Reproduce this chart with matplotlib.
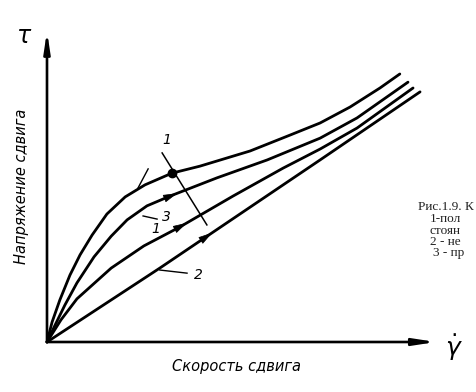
import matplotlib
matplotlib.use("Agg")
import matplotlib.pyplot as plt
import numpy as np

# ---- data (shear rate -> shear stress, arbitrary units) ----
rate_a = [0.00, 0.13, 0.33, 0.59, 0.85, 1.16, 1.54, 2.01, 2.52, 3.21, 3.93, 5.22, 6.25, 7.02, 7.79, 8.56, 9.07]
stress_a = [0.00, 0.51, 1.08, 1.72, 2.24, 2.75, 3.29, 3.73, 4.04, 4.34, 4.52, 4.91, 5.32, 5.63, 6.04, 6.53, 6.89]

rate_b = [0.00, 0.21, 0.46, 0.77, 1.21, 1.65, 2.06, 2.57, 3.16, 4.37, 5.66, 7.02, 7.97, 9.28]
stress_b = [0.00, 0.44, 0.95, 1.52, 2.19, 2.72, 3.14, 3.50, 3.75, 4.22, 4.68, 5.24, 5.76, 6.68]

rate_c = [0.00, 0.36, 0.77, 1.65, 2.49, 3.42, 4.78, 6.07, 7.02, 7.97, 9.41]
stress_c = [0.00, 0.57, 1.11, 1.90, 2.47, 2.96, 3.75, 4.47, 4.96, 5.50, 6.53]

rate_d = [0.00, 2.90, 7.02, 9.59]
stress_d = [0.00, 1.90, 4.68, 6.43]

x_label = "Скорость сдвига"
y_label = "Напряжение сдвига"
# caption as visible in the (cropped) reference
caption = ["Рис.1.9. К", "1-пол", "стоян", "2 - не", "3 - пр"]

W, H = 476, 392
fig = plt.figure(figsize=(W / 100, H / 100), dpi=100)
fig.patch.set_facecolor("white")
ox, oy, s = 47, 342, 38.9
ax = fig.add_axes([ox / W, (H - oy) / H, 389 / W, 311 / H])
ax.set_xlim(0, 389 / s)
ax.set_ylim(0, 311 / s)
ax.axis("off")

lw = 2.0
for xs, ys in [(rate_a, stress_a), (rate_b, stress_b), (rate_c, stress_c), (rate_d, stress_d)]:
    ax.plot(xs, ys, color="black", lw=lw, solid_joinstyle="round", solid_capstyle="round", clip_on=False)

# axes with arrows
ax.annotate("", xy=(0, 311 / s), xytext=(0, 0),
            arrowprops=dict(arrowstyle="-|>,head_length=1.2,head_width=0.18", color="black", lw=1.9,
                            shrinkA=0, shrinkB=0), annotation_clip=False)
ax.annotate("", xy=(389 / s, 0), xytext=(0, 0),
            arrowprops=dict(arrowstyle="-|>,head_length=1.3,head_width=0.2", color="black", lw=1.9,
                            shrinkA=0, shrinkB=0), annotation_clip=False)


def arrow_on(xs, ys, xpos, d=0.25):
    x0, x1 = xpos - d, xpos + d
    ax.annotate("", xy=(x1, np.interp(x1, xs, ys)), xytext=(x0, np.interp(x0, xs, ys)),
                arrowprops=dict(arrowstyle="-|>,head_length=0.9,head_width=0.25", color="black", lw=0.5,
                                shrinkA=0, shrinkB=0))


arrow_on(rate_b, stress_b, 3.10)
arrow_on(rate_c, stress_c, 3.35)
arrow_on(rate_d, stress_d, 4.0)
ax.plot([3.21], [np.interp(3.21, rate_a, stress_a)], "o", color="black", ms=6)

# crossing line "1" and small tick
ax.plot([2.96, 4.11], [4.86, 3.01], color="black", lw=1.1, clip_on=False)
ax.plot([2.34, 2.60], [3.96, 4.45], color="black", lw=1.0, clip_on=False)
# label leaders
ax.plot([2.47, 2.83], [3.24, 3.16], color="black", lw=1.0)
ax.plot([2.90, 3.60], [1.85, 1.77], color="black", lw=1.0)

hand = dict(family="DejaVu Sans", style="italic", color="black")
ax.text(3.08, 5.19, "1", fontsize=10, ha="center", va="center", **hand)
ax.text(3.07, 3.22, "3", fontsize=10, ha="center", va="center", **hand)
ax.text(2.80, 2.90, "1", fontsize=10, ha="center", va="center", **hand)
ax.text(3.88, 1.72, "2", fontsize=10, ha="center", va="center", **hand)

# stray dash at top
fig.lines.append(plt.Line2D([138 / W, 152 / W], [1 - 9 / H, 1 - 9 / H], color="black", lw=1.0))

fig.text(24 / W, 1 - 36 / H, "τ", fontsize=17, ha="center", va="center", **hand)
fig.text(454 / W, 1 - 348 / H, r"$\dot{\gamma}$", fontsize=18, ha="center", va="center")
fig.text(22 / W, 1 - 186 / H, y_label, rotation=90, fontsize=10.5, ha="center", va="center", **hand)
fig.text(236 / W, 1 - 366 / H, x_label, fontsize=10.5, ha="center", va="center", **hand)

cap_pos = [(418, 207), (430, 219), (430, 231), (430, 242), (433, 253)]
for (px, py), line in zip(cap_pos, caption):
    fig.text(px / W, 1 - py / H, line, fontsize=9.5, family="Liberation Serif", ha="left", va="center",
             color="#222222")

fig.savefig("out.png", dpi=100)
